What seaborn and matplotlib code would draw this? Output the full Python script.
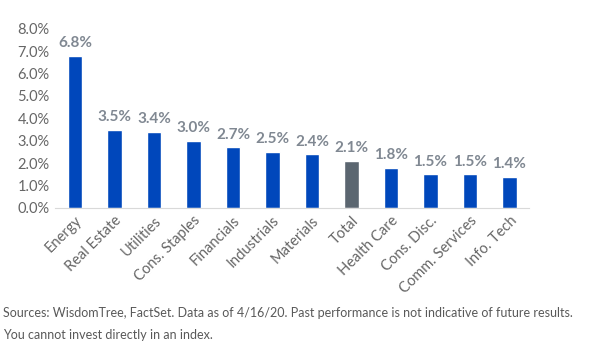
import pandas as pd
import matplotlib.pyplot as plt
import seaborn as sns

# Dados
setores = ["Energy", "Real Estate", "Utilities", "Cons. Staples", "Financials",
           "Industrials", "Materials", "Total", "Health Care", "Cons. Disc.",
           "Comm. Services", "Info. Tech"]
valores = [6.8, 3.5, 3.4, 3.0, 2.7, 2.5, 2.4, 2.1, 1.8, 1.5, 1.5, 1.4]
rotulos = ["6.8%", "3.5%", "3.4%", "3.0%", "2.7%", "2.5%", "2.4%", "2.1%",
           "1.8%", "1.5%", "1.5%", "1.4%"]

df = pd.DataFrame({"Setor": setores, "Valor": valores})

sns.set_style("white")
plt.rcParams["font.family"] = ["Lato", "DejaVu Sans"]

azul = "#0047BB"
cinza = "#5B6670"
cores = [cinza if s == "Total" else azul for s in setores]

fig = plt.figure(figsize=(6, 3.56), dpi=100)
ax = fig.add_axes([0.092, 0.416, 0.79, 0.503])

sns.barplot(data=df, x="Setor", y="Valor", hue="Setor", palette=cores,
            legend=False, width=0.36, ax=ax, saturation=1)

# Rótulos acima das barras
for i, (v, r) in enumerate(zip(valores, rotulos)):
    ax.text(i, v + 0.25, r, ha="center", va="bottom", fontsize=11,
            fontweight="bold", color="#808892")

ax.set_ylim(0, 8)
ax.set_xlim(-0.5, 11.5)
ax.set_yticks(range(0, 9))
ax.set_yticklabels([f"{t:.1f}%" for t in range(0, 9)], fontsize=10.5, color="#666666")
ax.set_xticks(range(len(setores)))
ax.set_xticklabels(setores, rotation=45, ha="right", rotation_mode="anchor",
                   fontsize=10.5, color="#666666")
ax.tick_params(axis="both", length=0, pad=4)
ax.set_xlabel("")
ax.set_ylabel("")

for lado in ["top", "right", "left"]:
    ax.spines[lado].set_visible(False)
ax.spines["bottom"].set_color("#D9D9D9")

fig.text(0.005, 0.12, "Sources: WisdomTree, FactSet. Data as of 4/16/20. Past performance is not indicative of future results.",
         fontsize=9, color="#595959", va="center")
fig.text(0.005, 0.06, "You cannot invest directly in an index.",
         fontsize=9, color="#595959", va="center")

plt.savefig("out.png", dpi=100)
